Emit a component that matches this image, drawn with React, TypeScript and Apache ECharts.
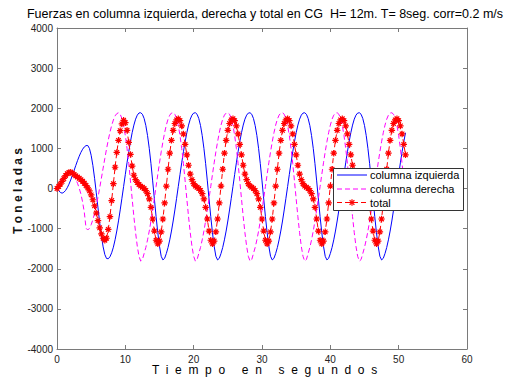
import React, { useEffect, useRef } from "react";
import * as echarts from "echarts";

// Sampling step of the simulation (seconds)
const DT = 0.25;

const xTicks = [0, 10, 20, 30, 40, 50, 60];
const yTicks = [-4000, -3000, -2000, -1000, 0, 1000, 2000, 3000, 4000];

const seriesNames = ["columna izquierda", "columna derecha", "total"];

// columna izquierda (toneladas), t = 0, 0.25, ... 51 s
const leftColumn = [
  0, -50, -100, -116, -95, -50, 19, 107, 211, 327,
  450, 574, 694, 804, 901, 979, 1037, 1069, 1072, 997,
  827, 574, 254, -107, -485, -854, -1185, -1455, -1647, -1744,
  -1751, -1701, -1603, -1463, -1278, -1059, -808, -534, -244, 53,
  352, 644, 918, 1168, 1392, 1580, 1728, 1828, 1883,
  1888, 1850, 1745, 1570, 1320, 1000, 620, 190, -260, -700, -1100, -1440, -1690, -1780, -1740, -1620,
  -1470, -1280, -1060, -810, -535, -245, 50, 350, 640, 915, 1165, 1390, 1580, 1728, 1828, 1880,
  1888, 1850, 1745, 1570, 1320, 1000, 620, 190, -260, -700, -1100, -1440, -1690, -1780, -1740, -1620,
  -1470, -1280, -1060, -810, -535, -245, 50, 350, 640, 915, 1165, 1390, 1580, 1728, 1828, 1880,
  1888, 1850, 1745, 1570, 1320, 1000, 620, 190, -260, -700, -1100, -1440, -1690, -1780, -1740, -1620,
  -1470, -1280, -1060, -810, -535, -245, 50, 350, 640, 915, 1165, 1390, 1580, 1728, 1828, 1880,
  1888, 1850, 1745, 1570, 1320, 1000, 620, 190, -260, -700, -1100, -1440, -1690, -1780, -1740, -1620,
  -1470, -1280, -1060, -810, -535, -245, 50, 350, 640, 915, 1165, 1390, 1580, 1728, 1828, 1880,
  1888, 1850, 1745, 1570, 1320, 1000, 620, 190, -260, -700, -1100, -1440, -1690, -1780, -1740, -1620,
  -1470, -1280, -1060, -810, -535, -245, 50, 350, 640, 915, 1165, 1390,
];

// columna derecha (toneladas)
const rightColumn = [
  0, 80, 170, 250, 310, 350, 370, 375, 365, 345,
  300, 230, 130, 10, -140, -340, -600, -990, -1035, -991,
  -903, -777, -618, -429, -215, 17, 260, 507, 752, 988,
  1206, 1402, 1571, 1707, 1810, 1866,
  1888, 1850, 1745, 1570, 1320, 1000, 620, 190, -260, -700, -1100, -1440, -1690,
  -1810, -1770, -1620, -1470, -1280, -1060, -810, -535, -245, 50, 350, 640, 915, 1165, 1390, 1580,
  1728, 1828, 1880, 1888, 1850, 1745, 1570, 1320, 1000, 620, 190, -260, -700, -1100, -1440, -1690,
  -1810, -1770, -1620, -1470, -1280, -1060, -810, -535, -245, 50, 350, 640, 915, 1165, 1390, 1580,
  1728, 1828, 1880, 1888, 1850, 1745, 1570, 1320, 1000, 620, 190, -260, -700, -1100, -1440, -1690,
  -1810, -1770, -1620, -1470, -1280, -1060, -810, -535, -245, 50, 350, 640, 915, 1165, 1390, 1580,
  1728, 1828, 1880, 1888, 1850, 1745, 1570, 1320, 1000, 620, 190, -260, -700, -1100, -1440, -1690,
  -1810, -1770, -1620, -1470, -1280, -1060, -810, -535, -245, 50, 350, 640, 915, 1165, 1390, 1580,
  1728, 1828, 1880, 1888, 1850, 1745, 1570, 1320, 1000, 620, 190, -260, -700, -1100, -1440, -1690,
  -1810, -1770, -1620, -1470, -1280, -1060, -810, -535, -245, 50, 350, 640, 915, 1165, 1390, 1580,
  1728, 1828, 1880, 1888, 1850, 1745, 1570, 1320, 1000, 620, 190, -260,
];

// total en CG (toneladas)
const totalCG = [
  0, 50, 110, 180, 250, 320, 370, 400, 405, 385,
  350, 315, 285, 255, 220, 180, 130, 75, 15, -60,
  -160, -280, -430, -610, -800, -980, -1130, -1240, -1290, -1240,
  -1020, -700, -300, 120, 530, 900, 1200, 1440, 1610, 1700,
  1640, 1450, 1150, 850, 560, 330, 220, 150, 100,
  60, 30, 0, -50, -130, -260, -470, -760, -1060, -1290, -1380, -1310, -1080, -760, -360, 60,
  480, 880, 1200, 1450, 1620, 1710, 1740, 1690, 1560, 1360, 1100, 840, 580, 360, 220, 120,
  60, 30, 0, -50, -130, -260, -470, -760, -1060, -1290, -1380, -1310, -1080, -760, -360, 60,
  480, 880, 1200, 1450, 1620, 1710, 1740, 1690, 1560, 1360, 1100, 840, 580, 360, 220, 120,
  60, 30, 0, -50, -130, -260, -470, -760, -1060, -1290, -1380, -1310, -1080, -760, -360, 60,
  480, 880, 1200, 1450, 1620, 1710, 1740, 1690, 1560, 1360, 1100, 840, 580, 360, 220, 120,
  60, 30, 0, -50, -130, -260, -470, -760, -1060, -1290, -1380, -1310, -1080, -760, -360, 60,
  480, 880, 1200, 1450, 1620, 1710, 1740, 1690, 1560, 1360, 1100, 840, 580, 360, 220, 120,
  60, 30, 0, -50, -130, -260, -470, -760, -1060, -1290, -1380, -1310, -1080, -760, -360, 60,
  480, 880, 1200, 1450, 1620, 1710, 1740, 1690, 1560, 1360, 1100, 840,
];

const FONT = "'Liberation Sans', Arial, Helvetica, sans-serif";
const AXIS_COLOR = "#7a7a7a";
const BLUE = "#0000ff";
const MAGENTA = "#ff00ff";
const RED = "#ff0000";
const STAR = "path://M5 0L5 10M0 5L10 5M1.5 1.5L8.5 8.5M1.5 8.5L8.5 1.5";

const toPairs = (vals: number[]) => vals.map((v, i) => [i * DT, v]);

export default function App() {
  const ref = useRef<HTMLDivElement>(null);

  useEffect(() => {
    if (!ref.current) return;
    const chart = echarts.init(ref.current, undefined, { renderer: "svg" });

    const xCommon = {
      type: "value" as const,
      min: xTicks[0],
      max: xTicks[xTicks.length - 1],
      interval: 10,
      splitLine: { show: false },
      axisLine: { show: true, onZero: false, lineStyle: { color: AXIS_COLOR, width: 1 } },
      axisTick: { show: true, inside: true, length: 4, lineStyle: { color: AXIS_COLOR } },
    };
    const yCommon = {
      type: "value" as const,
      min: yTicks[0],
      max: yTicks[yTicks.length - 1],
      interval: 1000,
      splitLine: { show: false },
      axisLine: { show: true, onZero: false, lineStyle: { color: AXIS_COLOR, width: 1 } },
      axisTick: { show: true, inside: true, length: 4, lineStyle: { color: AXIS_COLOR } },
    };

    // legend (MATLAB style box) geometry
    const LX = 333, LY = 168, LW = 130, LH = 42;
    const rowY = [175, 189, 202.5];
    const lineX1 = 337, lineX2 = 367, textX = 370;
    const starCx = (lineX1 + lineX2) / 2, r = 3.3, d = 2.4;
    const z = 100;

    chart.setOption({
      animation: false,
      backgroundColor: "#ffffff",
      grid: { left: 57, right: 46, top: 28, bottom: 35, containLabel: false },
      xAxis: [
        {
          ...xCommon,
          position: "bottom",
          axisLabel: { show: true, color: "#222", fontSize: 10, margin: 5, fontFamily: FONT },
        },
        { ...xCommon, position: "top", axisLabel: { show: false } },
      ],
      yAxis: [
        {
          ...yCommon,
          position: "left",
          axisLabel: {
            show: true,
            color: "#222",
            fontSize: 10,
            margin: 4,
            fontFamily: FONT,
            formatter: (v: number) => String(v),
          },
        },
        { ...yCommon, position: "right", axisLabel: { show: false } },
      ],
      series: [
        {
          name: seriesNames[0],
          type: "line",
          data: toPairs(leftColumn),
          symbol: "none",
          lineStyle: { color: BLUE, width: 1 },
          itemStyle: { color: BLUE },
          z: 2,
        },
        {
          name: seriesNames[1],
          type: "line",
          data: toPairs(rightColumn),
          symbol: "none",
          lineStyle: { color: MAGENTA, width: 1, type: [5, 3] },
          itemStyle: { color: MAGENTA },
          z: 3,
        },
        {
          name: seriesNames[2],
          type: "line",
          data: toPairs(totalCG),
          symbol: STAR,
          symbolSize: 6.5,
          showAllSymbol: true,
          lineStyle: { color: RED, width: 1, type: [5, 3] },
          itemStyle: { color: RED, borderColor: RED, borderWidth: 1.2 },
          z: 4,
        },
      ],
      graphic: [
        {
          type: "text",
          x: 265,
          y: 14,
          z,
          style: {
            text: "Fuerzas en columna izquierda, derecha y total en CG  H= 12m. T= 8seg. corr=0.2 m/s",
            font: `12.5px ${FONT}`,
            fill: "#000",
            textAlign: "center",
            textVerticalAlign: "middle",
          },
        },
        {
          type: "text",
          left: 152,
          top: 364,
          z,
          style: {
            text: "T  i  e  m  p  o     e  n     s  e  g  u  n  d  o  s",
            font: `12px ${FONT}`,
            fill: "#000",
          },
        },
        {
          type: "text",
          x: 18,
          y: 191,
          rotation: Math.PI / 2,
          z,
          style: {
            text: "T o n e l a d a s",
            font: `bold 12px ${FONT}`,
            fill: "#111",
            textAlign: "center",
            textVerticalAlign: "middle",
          },
        },
        // legend box
        {
          type: "rect",
          z,
          shape: { x: LX + 0.5, y: LY + 0.5, width: LW, height: LH },
          style: { fill: "#fff", stroke: "#333", lineWidth: 1 },
        },
        {
          type: "line",
          z: z + 1,
          shape: { x1: lineX1, y1: rowY[0], x2: lineX2, y2: rowY[0] },
          style: { stroke: BLUE, lineWidth: 1 },
        },
        {
          type: "line",
          z: z + 1,
          shape: { x1: lineX1, y1: rowY[1], x2: lineX2, y2: rowY[1] },
          style: { stroke: MAGENTA, lineWidth: 1, lineDash: [5, 3] },
        },
        {
          type: "line",
          z: z + 1,
          shape: { x1: lineX1, y1: rowY[2], x2: lineX2, y2: rowY[2] },
          style: { stroke: RED, lineWidth: 1, lineDash: [5, 3] },
        },
        { type: "line", z: z + 2, shape: { x1: starCx, y1: rowY[2] - r, x2: starCx, y2: rowY[2] + r }, style: { stroke: RED, lineWidth: 1.2 } },
        { type: "line", z: z + 2, shape: { x1: starCx - r, y1: rowY[2], x2: starCx + r, y2: rowY[2] }, style: { stroke: RED, lineWidth: 1.2 } },
        { type: "line", z: z + 2, shape: { x1: starCx - d, y1: rowY[2] - d, x2: starCx + d, y2: rowY[2] + d }, style: { stroke: RED, lineWidth: 1.2 } },
        { type: "line", z: z + 2, shape: { x1: starCx - d, y1: rowY[2] + d, x2: starCx + d, y2: rowY[2] - d }, style: { stroke: RED, lineWidth: 1.2 } },
        ...seriesNames.map((name, i) => ({
          type: "text",
          z: z + 1,
          x: textX,
          y: rowY[i],
          style: {
            text: name,
            font: `11px ${FONT}`,
            fill: "#000",
            textVerticalAlign: "middle",
          },
        })),
      ],
    });

    return () => chart.dispose();
  }, []);

  return (
    <div
      ref={ref}
      style={{ position: "fixed", left: 0, top: 0, width: 513, height: 384, background: "#fff" }}
    />
  );
}
